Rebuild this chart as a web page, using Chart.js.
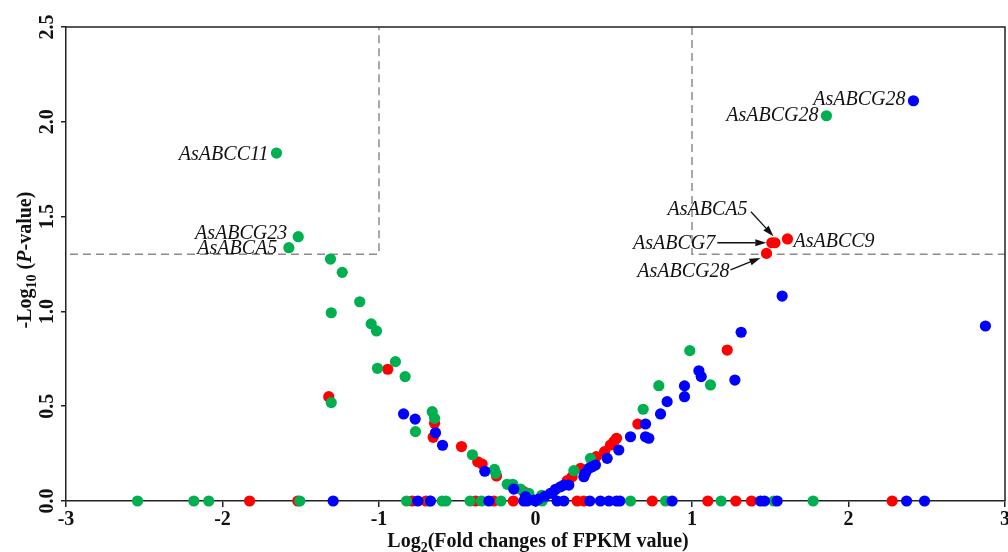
<!DOCTYPE html>
<html><head><meta charset="utf-8">
<script src="https://cdn.jsdelivr.net/npm/chart.js@4.4.1/dist/chart.umd.min.js"></script>
<style>html,body{margin:0;padding:0;background:#fff}#wrap{width:1008px;height:552px;position:relative}</style>
</head><body><div id="wrap"><canvas id="c"></canvas></div>
<script>
// ---- data ----
const redX = [1.53, 1.51, 1.61, 1.476, -0.944, -1.321, -0.645, -0.654, -0.473, -0.369, -0.341, -0.249, -0.075,
  0.202, 0.234, 0.288, 0.388, 0.441, 0.479, 0.500, 0.518, 0.654, 1.225,
  -1.827, -1.519, -0.788, -0.700, -0.383, -0.266, -0.142, 0.266, 0.309, 0.746, 1.101, 1.280, 1.380, 2.279];
const redY = [1.362, 1.362, 1.382, 1.306, 0.695, 0.550, 0.410, 0.336, 0.287, 0.207, 0.195, 0.132, 0.049,
  0.107, 0.128, 0.172, 0.234, 0.260, 0.295, 0.313, 0.331, 0.406, 0.796,
  0, 0, 0, 0, 0, 0, 0, 0, 0, 0, 0, 0, 0, 0];
const greenX = [-1.655, -1.516, -1.576, 1.859, -1.31, -1.235, -1.123, -1.305, -1.050, -1.016, -0.895, -1.010, -0.833,
  -1.305, -0.660, -0.645, -0.767, -0.403, -0.262, -0.254, -0.181, -0.145, -0.096, -0.043, 0.04, 0.245, 0.351,
  0.688, 0.788, 0.986, 1.118,
  -2.543, -2.183, -2.088, -1.506, -0.824, -0.675, -0.596, -0.572, -0.418, -0.345, -0.221, 0.043, 0.607, 0.831, 1.186, 1.523, 1.774];
const greenY = [1.835, 1.394, 1.336, 2.032, 1.276, 1.206, 1.051, 0.993, 0.934, 0.897, 0.735, 0.700, 0.656,
  0.519, 0.471, 0.436, 0.366, 0.244, 0.167, 0.146, 0.088, 0.088, 0.063, 0.041, 0.03, 0.160, 0.225,
  0.484, 0.608, 0.793, 0.612,
  0, 0, 0, 0, 0, 0, 0, 0, 0, 0, 0, 0, 0, 0, 0, 0, 0];
const blueX = [2.415, 1.576, 1.314, 1.274, 2.875, -0.843, -0.769, -0.639, -0.594, -0.324, -0.139, -0.064, -0.01, 0.02,
  0.06, 0.096, 0.107, 0.128, 0.160, 0.181, 0.213, 0.309, 0.319, 0.341, 0.362, 0.383, 0.458, 0.532, 0.607,
  0.703, 0.703, 0.724, 0.799, 0.841, 0.952, 0.952, 1.044, 1.059,
  -1.293, -0.752, -0.671, -0.298, -0.075, -0.053, 0.0, 0.138, 0.181, 0.347, 0.415, 0.469, 0.518, 0.539, 0.873,
  1.438, 1.463, 1.544, 2.371, 2.486];
const blueY = [2.111, 1.081, 0.890, 0.638, 0.923, 0.459, 0.432, 0.360, 0.294, 0.157, 0.063, 0.023, 0.005, 0.01,
  0.025, 0.041, 0.041, 0.062, 0.075, 0.084, 0.084, 0.128, 0.146, 0.172, 0.181, 0.190, 0.225, 0.269, 0.339,
  0.406, 0.339, 0.331, 0.459, 0.524, 0.607, 0.550, 0.687, 0.656,
  0, 0, 0, 0, 0, 0, 0, 0, 0, 0, 0, 0, 0, 0, 0,
  0, 0, 0, 0, 0];
const xTicks = [-3, -2, -1, 0, 1, 2, 3];
const yTicks = [0.0, 0.5, 1.0, 1.5, 2.0, 2.5];
const fcCut = 1;          // |log2 FC| threshold
const pCut = 1.301;       // -log10(0.05)
// labelled genes: series, point index, name
const geneLabels = [
  {series: 'green', i: 0, text: 'AsABCC11'},
  {series: 'green', i: 1, text: 'AsABCG23'},
  {series: 'green', i: 2, text: 'AsABCA5'},
  {series: 'green', i: 3, text: 'AsABCG28'},
  {series: 'blue', i: 0, text: 'AsABCG28'},
  {series: 'red', i: 0, text: 'AsABCA5'},
  {series: 'red', i: 1, text: 'AsABCG7'},
  {series: 'red', i: 2, text: 'AsABCC9'},
  {series: 'red', i: 3, text: 'AsABCG28'}
];
// ---- styling / placement (pixel offsets from the labelled point) ----
const labelStyle = [
  {align: 'right', dx: -8, dy: 0},
  {align: 'right', dx: -11, dy: -4},
  {align: 'right', dx: -11.5, dy: 0},
  {align: 'right', dx: -8, dy: -1},
  {align: 'right', dx: -8, dy: -2},
  {align: 'right', dx: -27.5, dy: -34, arrow: [-24, -31, -1.5, -6.5]},
  {align: 'right', dx: -56.5, dy: 0, arrow: [-54.5, 0, -5.5, 0]},
  {align: 'left', dx: 6, dy: 2},
  {align: 'right', dx: -37, dy: 17.5, arrow: [-36, 16.5, -6, 4.5]}
];
const colors = {red: '#ff0000', green: '#00b050', blue: '#0000ff'};
const toPts = (xs, ys) => xs.map((x, k) => ({x: x, y: ys[k]}));
const SERIF = '"Liberation Serif", "Times New Roman", serif';

const decor = {
  id: 'decor',
  beforeDatasetsDraw(chart) {
    const {ctx, chartArea: a, scales: {x, y}} = chart;
    ctx.save();
    ctx.strokeStyle = '#8c8c8c';
    ctx.lineWidth = 1.5;
    ctx.setLineDash([8, 5]);
    const yp = y.getPixelForValue(pCut);
    ctx.beginPath();
    ctx.moveTo(a.left + 4, yp);
    ctx.lineTo(x.getPixelForValue(-fcCut), yp);
    ctx.lineTo(x.getPixelForValue(-fcCut), a.top);
    ctx.stroke();
    ctx.beginPath();
    ctx.moveTo(x.getPixelForValue(fcCut), a.top);
    ctx.lineTo(x.getPixelForValue(fcCut), yp);
    ctx.lineTo(a.right, yp);
    ctx.stroke();
    ctx.restore();
  },
  afterDraw(chart) {
    const {ctx, chartArea: a, scales: {x, y}} = chart;
    ctx.save();
    // frame top & right
    ctx.strokeStyle = '#222';
    ctx.lineWidth = 1.5;
    ctx.beginPath();
    ctx.moveTo(a.left, a.top);
    ctx.lineTo(a.right, a.top);
    ctx.lineTo(a.right, a.bottom);
    ctx.stroke();
    // x tick labels (placed through the x scale)
    ctx.font = 'bold 20px ' + SERIF;
    ctx.fillStyle = '#111';
    ctx.textAlign = 'center';
    ctx.textBaseline = 'top';
    xTicks.forEach(v => ctx.fillText(String(v), x.getPixelForValue(v), a.bottom + 9));
    // gene labels
    const src = {red: [redX, redY], green: [greenX, greenY], blue: [blueX, blueY]};
    ctx.font = 'italic 20px ' + SERIF;
    ctx.fillStyle = '#111';
    ctx.textBaseline = 'alphabetic';
    geneLabels.forEach((g, k) => {
      const st = labelStyle[k];
      const px = x.getPixelForValue(src[g.series][0][g.i]);
      const py = y.getPixelForValue(src[g.series][1][g.i]);
      ctx.textAlign = st.align;
      ctx.fillText(g.text, px + st.dx, py + st.dy + 6.5);
      if (st.arrow) {
        const [sx, sy, tx, ty] = st.arrow;
        const x0 = px + sx, y0 = py + sy, x1 = px + tx, y1 = py + ty;
        const ang = Math.atan2(y1 - y0, x1 - x0);
        const L = 11, W = 3.6;
        const bx = x1 - L * Math.cos(ang), by = y1 - L * Math.sin(ang);
        ctx.strokeStyle = '#111';
        ctx.lineWidth = 1.3;
        ctx.beginPath(); ctx.moveTo(x0, y0); ctx.lineTo(bx, by); ctx.stroke();
        ctx.beginPath();
        ctx.moveTo(x1, y1);
        ctx.lineTo(bx + W * Math.sin(ang), by - W * Math.cos(ang));
        ctx.lineTo(bx - W * Math.sin(ang), by + W * Math.cos(ang));
        ctx.closePath(); ctx.fillStyle = '#111'; ctx.fill();
      }
    });
    // axis titles with subscripts
    const big = 'bold 20px ' + SERIF, small = 'bold 14px ' + SERIF, bigI = 'bold italic 20px ' + SERIF;
    function rich(parts, cx, base) {
      let w = 0;
      parts.forEach(p => { ctx.font = p.f; w += ctx.measureText(p.t).width; });
      let xx = cx - w / 2;
      ctx.textAlign = 'left';
      parts.forEach(p => { ctx.font = p.f; ctx.fillText(p.t, xx, base + (p.dy || 0)); xx += ctx.measureText(p.t).width; });
    }
    ctx.fillStyle = '#111';
    rich([{t: 'Log', f: big}, {t: '2', f: small, dy: 5}, {t: '(Fold changes of FPKM value)', f: big}], 538, 547);
    ctx.save();
    ctx.translate(31, 260);
    ctx.rotate(-Math.PI / 2);
    rich([{t: '-Log', f: big}, {t: '10', f: small, dy: 5}, {t: ' (', f: big}, {t: 'P', f: bigI}, {t: '-value)', f: big}], 0, 0);
    ctx.restore();
    ctx.restore();
  }
};

new Chart(document.getElementById('c'), {
  type: 'scatter',
  data: {
    datasets: [
      {label: 'blue', data: toPts(blueX, blueY), backgroundColor: colors.blue, order: 1},
      {label: 'green', data: toPts(greenX, greenY), backgroundColor: colors.green, order: 2},
      {label: 'red', data: toPts(redX, redY), backgroundColor: colors.red, order: 3}
    ]
  },
  options: {
    responsive: true,
    maintainAspectRatio: false,
    animation: false,
    clip: false,
    layout: {autoPadding: false, padding: {top: 27, right: 3, left: 0, bottom: 0}},
    elements: {point: {radius: 5.6, borderWidth: 0, hoverRadius: 5.6}},
    plugins: {legend: {display: false}, tooltip: {enabled: false}},
    scales: {
      x: {
        type: 'linear', min: -3, max: 3,
        afterFit(s) { s.height = 51; s.paddingLeft = 0; s.paddingRight = 0; },
        afterBuildTicks(s) { s.ticks = xTicks.map(v => ({value: v})); },
        grid: {drawOnChartArea: false, drawTicks: true, tickLength: 6, color: '#222', lineWidth: 1.5},
        border: {display: true, color: '#222', width: 1.5},
        ticks: {display: false}
      },
      y: {
        type: 'linear', min: 0, max: 2.5,
        afterFit(s) { s.width = 66; s.paddingTop = 0; s.paddingBottom = 0; },
        afterBuildTicks(s) { s.ticks = yTicks.map(v => ({value: v})); },
        grid: {drawOnChartArea: false, drawTicks: true, tickLength: 5, color: '#222', lineWidth: 1.5},
        border: {display: true, color: '#222', width: 1.5},
        ticks: {autoSkip: false, padding: 1, minRotation: 90, maxRotation: 90, crossAlign: 'center',
          color: '#111', font: {family: SERIF, size: 20, weight: 'bold'},
          callback: v => Number(v).toFixed(1)}
      }
    }
  },
  plugins: [decor]
});
</script></body></html>
